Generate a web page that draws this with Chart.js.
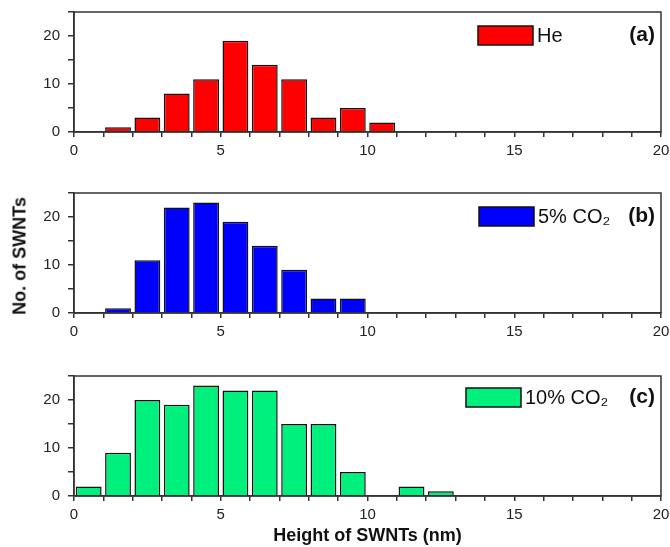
<!DOCTYPE html>
<html>
<head>
<meta charset="utf-8">
<script src="https://cdn.jsdelivr.net/npm/chart.js@4.4.1/dist/chart.umd.min.js"></script>
<style>
  body { margin: 0; background: #fff; width: 670px; height: 547px; position: relative; overflow: hidden;
         font-family: "Liberation Sans", Arial, sans-serif; }
  canvas { position: absolute; left: 0; }
  #ytitle { position: absolute; left: 20px; top: 256px; transform: translate(-50%, -50%) rotate(-90deg);
            font-weight: bold; font-size: 18px; white-space: nowrap; color: #111; }
</style>
</head>
<body>
<canvas id="chartA" width="670" height="165" style="top:0"></canvas>
<canvas id="chartB" width="670" height="165" style="top:180px"></canvas>
<canvas id="chartC" width="670" height="185" style="top:362px"></canvas>
<div id="ytitle">No. of SWNTs</div>
<script>
// bin centres (nm) and counts
const heCenters = [1.5, 2.5, 3.5, 4.5, 5.5, 6.5, 7.5, 8.5, 9.5, 10.5];
const heCounts = [1, 3, 8, 11, 19, 14, 11, 3, 5, 2];

const co2_5Centers = [1.5, 2.5, 3.5, 4.5, 5.5, 6.5, 7.5, 8.5, 9.5];
const co2_5Counts = [1, 11, 22, 23, 19, 14, 9, 3, 3];

const co2_10Centers = [0.5, 1.5, 2.5, 3.5, 4.5, 5.5, 6.5, 7.5, 8.5, 9.5, 11.5, 12.5];
const co2_10Counts = [2, 9, 20, 19, 23, 22, 22, 15, 15, 5, 2, 1];

const xLabelTicks = [0, 5, 10, 15, 20];
const yLabelTicks = [0, 10, 20];

const FONT = "'Liberation Sans', Arial, sans-serif";

const framePlugin = {
  id: "frame",
  afterDraw(chart) {
    const { ctx, chartArea: a } = chart;
    ctx.save();
    ctx.strokeStyle = "#333";
    ctx.lineWidth = 1.5;
    ctx.strokeRect(a.left, a.top, a.right - a.left, a.bottom - a.top);
    ctx.restore();
  }
};

const legendPlugin = {
  id: "boxLegend",
  afterDraw(chart, args, opts) {
    const { ctx, chartArea: a } = chart;
    const y = a.top + opts.dy;
    ctx.save();
    ctx.fillStyle = chart.data.datasets[0].backgroundColor;
    ctx.fillRect(opts.x, y, 55, 19);
    ctx.strokeStyle = "#111";
    ctx.lineWidth = 1.5;
    ctx.strokeRect(opts.x, y, 55, 19);
    ctx.fillStyle = "#111";
    ctx.textBaseline = "middle";
    ctx.font = "20px " + FONT;
    ctx.textAlign = "left";
    ctx.fillText(opts.text, opts.x + 59, y + 10);
    ctx.font = "bold 21px " + FONT;
    ctx.textAlign = "right";
    ctx.fillText(opts.tag, a.right - 6, y + 9);
    ctx.restore();
  }
};

function makePanel(id, centers, counts, color, opts) {
  const points = centers.map((c, i) => ({ x: c, y: counts[i] }));
  return new Chart(document.getElementById(id), {
    type: "bar",
    data: {
      datasets: [{
        data: points,
        backgroundColor: color,
        borderColor: "#111",
        borderWidth: 1.5,
        categoryPercentage: 1,
        barPercentage: 0.88
      }]
    },
    options: {
      responsive: false,
      animation: false,
      layout: { padding: { top: opts.top, right: 9, left: 0, bottom: 0 } },
      plugins: {
        legend: { display: false },
        tooltip: { enabled: false },
        boxLegend: { x: opts.legendX, dy: opts.legendDy, text: opts.label, tag: opts.tag }
      },
      scales: {
        x: {
          type: "linear",
          min: 0, max: 20,
          offset: false,
          afterFit(s) { s.height = opts.axisH; s.paddingLeft = 0; s.paddingRight = 0; },
          grid: { drawOnChartArea: false, offset: false, tickLength: 5, color: "#333", lineWidth: 1.5 },
          border: { color: "#333", width: 1.5 },
          ticks: {
            stepSize: 1, autoSkip: false, maxRotation: 0, padding: 5,
            color: "#222", font: { family: FONT, size: 15 },
            callback: v => xLabelTicks.includes(v) ? String(v) : ""
          },
          title: opts.xTitle ? {
            display: true, text: opts.xTitle, color: "#111", padding: { top: 0, bottom: 0 },
            font: { family: FONT, size: 18, weight: "bold" }
          } : { display: false }
        },
        y: {
          min: 0, max: 25,
          afterFit(s) { s.width = 74; s.paddingTop = 0; s.paddingBottom = 0; },
          grid: { drawOnChartArea: false, tickLength: 6, color: "#333", lineWidth: 1.5 },
          border: { color: "#333", width: 1.5 },
          ticks: {
            stepSize: 5, padding: 8,
            color: "#222", font: { family: FONT, size: 15 },
            callback: v => yLabelTicks.includes(v) ? String(v) : ""
          }
        }
      }
    },
    plugins: [framePlugin, legendPlugin]
  });
}

makePanel("chartA", heCenters, heCounts, "#ff0000",
  { top: 12, axisH: 33, legendX: 478, legendDy: 14, label: "He", tag: "(a)" });
makePanel("chartB", co2_5Centers, co2_5Counts, "#0000ff",
  { top: 13, axisH: 32, legendX: 479, legendDy: 14, label: "5% CO\u2082", tag: "(b)" });
makePanel("chartC", co2_10Centers, co2_10Counts, "#00f07e",
  { top: 14, axisH: 51, legendX: 466, legendDy: 12, label: "10% CO\u2082", tag: "(c)", xTitle: "Height of SWNTs (nm)" });
</script>
</body>
</html>
